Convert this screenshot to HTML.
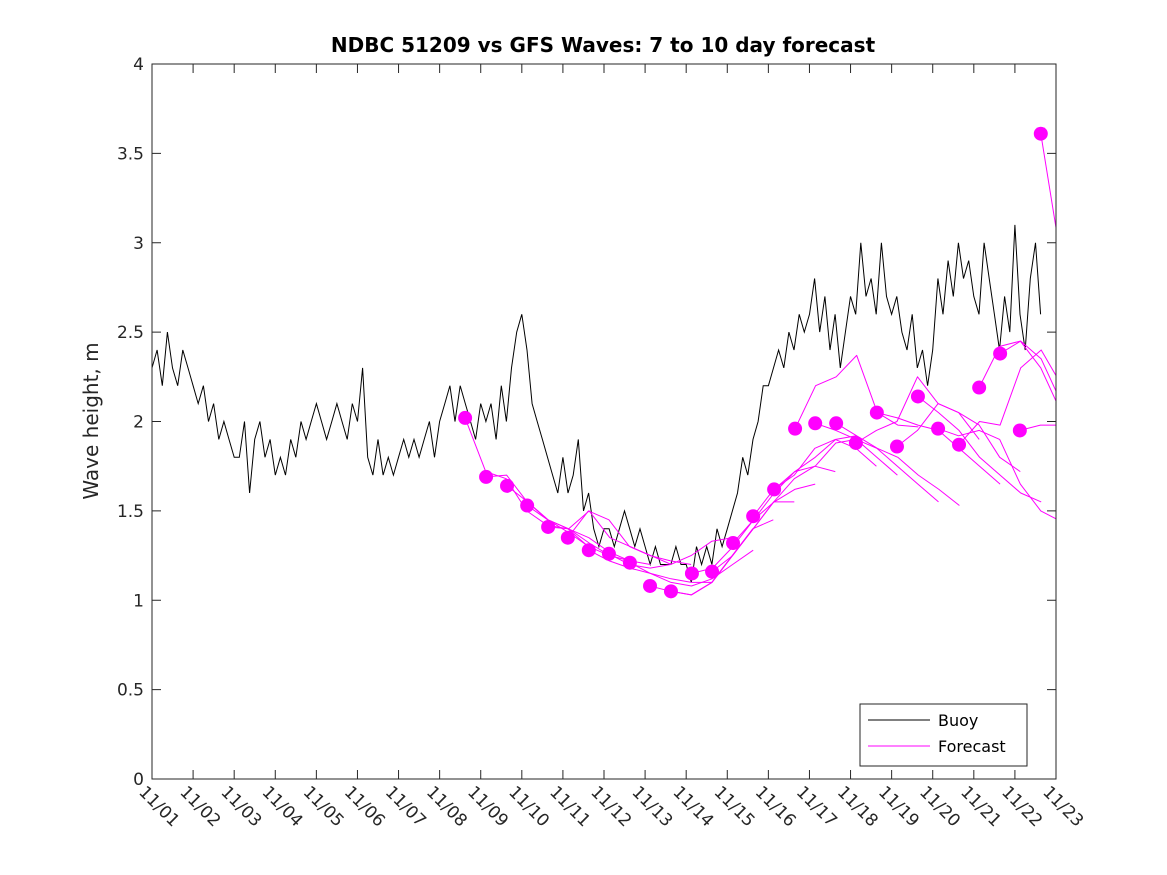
<!DOCTYPE html>
<html><head><meta charset="utf-8"><style>
body{margin:0;background:#fff}
svg{display:block;font-family:"DejaVu Sans","Liberation Sans",sans-serif}
</style></head><body>
<svg id="chart" width="1167" height="875" viewBox="0 0 1167 875">
<defs><clipPath id="plotclip"><rect x="152" y="64" width="904" height="715"/></clipPath></defs>
<rect width="1167" height="875" fill="#fff"/>
<text x="603" y="52" text-anchor="middle" font-size="20" font-weight="bold" fill="#000">NDBC 51209 vs GFS Waves: 7 to 10 day forecast</text>
<text transform="translate(98,421) rotate(-90)" text-anchor="middle" font-size="20" fill="#262626">Wave height, m</text>
<g id="axes"></g>
<g id="buoy" clip-path="url(#plotclip)"></g>
<g id="fc" clip-path="url(#plotclip)"></g>
<rect x="152" y="64" width="904" height="715" fill="none" stroke="#262626" stroke-width="1"/>
<g>
<rect x="860" y="704" width="167" height="62" fill="#fff" stroke="#262626"/>
<line x1="868" y1="720" x2="930" y2="720" stroke="#000"/>
<text x="938" y="726" font-size="16" fill="#000">Buoy</text>
<line x1="868" y1="746" x2="930" y2="746" stroke="#f0f"/>
<text x="938" y="752" font-size="16" fill="#000">Forecast</text>
</g>
</svg>
<script>
const yTicks=[0,0.5,1,1.5,2,2.5,3,3.5,4];
const yTickLabels=["0","0.5","1","1.5","2","2.5","3","3.5","4"];
const xTickLabels=["11/01","11/02","11/03","11/04","11/05","11/06","11/07","11/08","11/09","11/10","11/11","11/12","11/13","11/14","11/15","11/16","11/17","11/18","11/19","11/20","11/21","11/22","11/23"];
// buoy: 3-hourly from 11/01 00:00
const buoyValues=[2.3,2.4,2.2,2.5,2.3,2.2,2.4,2.3,
2.2,2.1,2.2,2.0,2.1,1.9,2.0,1.9,
1.8,1.8,2.0,1.6,1.9,2.0,1.8,1.9,
1.7,1.8,1.7,1.9,1.8,2.0,1.9,2.0,
2.1,2.0,1.9,2.0,2.1,2.0,1.9,2.1,
2.0,2.3,1.8,1.7,1.9,1.7,1.8,1.7,
1.8,1.9,1.8,1.9,1.8,1.9,2.0,1.8,
2.0,2.1,2.2,2.0,2.2,2.1,2.0,1.9,
2.1,2.0,2.1,1.9,2.2,2.0,2.3,2.5,
2.6,2.4,2.1,2.0,1.9,1.8,1.7,1.6,
1.8,1.6,1.7,1.9,1.5,1.6,1.4,1.3,
1.4,1.4,1.3,1.4,1.5,1.4,1.3,1.4,
1.3,1.2,1.3,1.2,1.2,1.2,1.3,1.2,
1.2,1.1,1.3,1.2,1.3,1.2,1.4,1.3,
1.4,1.5,1.6,1.8,1.7,1.9,2.0,2.2,
2.2,2.3,2.4,2.3,2.5,2.4,2.6,2.5,
2.6,2.8,2.5,2.7,2.4,2.6,2.3,2.5,
2.7,2.6,3.0,2.7,2.8,2.6,3.0,2.7,
2.6,2.7,2.5,2.4,2.6,2.3,2.4,2.2,
2.4,2.8,2.6,2.9,2.7,3.0,2.8,2.9,
2.7,2.6,3.0,2.8,2.6,2.4,2.7,2.5,
3.1,2.6,2.4,2.8,3.0,2.6];
const fcStartDays=[7.62,8.13,8.64,9.13,9.64,10.12,10.63,11.12,11.63,12.12,12.63,13.14,13.63,14.14,14.63,15.14,15.65,16.14,16.65,17.13,17.64,18.13,18.64,19.13,19.64,20.13,20.64,21.12,21.63];
const fcDotValues=[2.02,1.69,1.64,1.53,1.41,1.35,1.28,1.26,1.21,1.08,1.05,1.15,1.16,1.32,1.47,1.62,1.96,1.99,1.99,1.88,2.05,1.86,2.14,1.96,1.87,2.19,2.38,1.95,3.61];
const fcLines=[
[2.02,1.72,1.68,1.50,1.42,1.40,1.30],
[1.69,1.70,1.55,1.45,1.38,1.30,1.25],
[1.64,1.55,1.45,1.40,1.32,1.25,1.22],
[1.53,1.45,1.40,1.35,1.27,1.22,1.20],
[1.41,1.40,1.50,1.35,1.30,1.25,1.20],
[1.35,1.50,1.45,1.30,1.25,1.22,1.20],
[1.28,1.22,1.18,1.15,1.12,1.10,1.10],
[1.26,1.20,1.18,1.20,1.25,1.33,1.35],
[1.21,1.15,1.10,1.08,1.12,1.20,1.28],
[1.08,1.05,1.03,1.10,1.25,1.40,1.45],
[1.05,1.03,1.10,1.25,1.40,1.55,1.55],
[1.15,1.18,1.30,1.45,1.55,1.62,1.65],
[1.16,1.25,1.40,1.55,1.68,1.75,1.72],
[1.32,1.45,1.60,1.72,1.80,1.90,1.92],
[1.47,1.62,1.70,1.85,1.90,1.85,1.75],
[1.62,1.72,1.75,1.88,1.90,1.80,1.70],
[1.96,2.20,2.25,2.37,2.05,1.98,1.97],
[1.99,1.95,1.90,1.85,1.75,1.65,1.55],
[1.99,1.92,1.85,1.80,1.70,1.62,1.53],
[1.88,1.95,2.00,2.25,2.10,2.05,1.90],
[2.05,2.02,1.98,1.95,1.85,1.75,1.65],
[1.86,1.95,2.10,2.05,1.98,1.80,1.72],
[2.14,2.05,1.95,1.80,1.70,1.60,1.55],
[1.96,1.92,1.95,1.90,1.65,1.50,1.44],
[1.87,2.00,1.98,2.30,2.40,2.20,1.85],
[2.19,2.42,2.45,2.30,2.05,1.80,1.70],
[2.38,2.45,2.35,2.10,1.90,1.82,1.78],
[1.95,1.98,1.98,1.85,1.80,1.70,1.60],
[3.61,2.90]];
const X0=152,X1=1056,Y0=779,Y1=64;
const xScale=d=>X0+(d/22)*(X1-X0);
const yScale=v=>Y0-(v/4)*(Y0-Y1);
const NS="http://www.w3.org/2000/svg";
function mk(tag,attrs,parent){const e=document.createElementNS(NS,tag);for(const k in attrs)e.setAttribute(k,attrs[k]);parent.appendChild(e);return e;}
const axes=document.getElementById('axes');
yTicks.forEach((v,i)=>{const y=yScale(v);
const t1=mk('line',{x1:X0,y1:y,x2:X0+9,y2:y,stroke:'#262626'},axes);


const t2=mk('line',{x1:X1,y1:y,x2:X1-9,y2:y,stroke:'#262626'},axes);


const tx=mk('text',{x:X0-8,y:y+6,'text-anchor':'end','font-size':17,fill:'#262626'},axes);
tx.textContent=yTickLabels[i];


});
xTickLabels.forEach((lab,i)=>{const x=xScale(i);
const t1=mk('line',{x1:x,y1:Y0,x2:x,y2:Y0-9,stroke:'#262626'},axes);


const t2=mk('line',{x1:x,y1:Y1,x2:x,y2:Y1+9,stroke:'#262626'},axes);


const tx=mk('text',{transform:`translate(${x-14},${Y0+14}) rotate(45)`,'font-size':17,fill:'#262626'},axes);
tx.textContent=lab;


});
const bg=document.getElementById('buoy');
let bp='';buoyValues.forEach((v,i)=>{const x=xScale(i/8),y=yScale(v);bp+=(i?' L':'M')+x.toFixed(1)+' '+y.toFixed(1);});
const bl=mk('path',{d:bp,fill:'none',stroke:'#000','stroke-width':1,'stroke-linejoin':'miter'},bg);


const fg=document.getElementById('fc');
fcLines.forEach((arr,j)=>{const d=arr.map((v,k)=>(k?'L':'M')+xScale(fcStartDays[j]+k*0.5).toFixed(1)+' '+yScale(v).toFixed(1)).join(' ');
const p=mk('path',{d:d,fill:'none',stroke:'#f0f','stroke-width':1,'stroke-linejoin':'round'},fg);


});
fcStartDays.forEach((d,j)=>{const c=mk('circle',{cx:xScale(d),cy:yScale(fcDotValues[j]),r:7,fill:'#f0f'},fg);


});
</script>
</body></html>
